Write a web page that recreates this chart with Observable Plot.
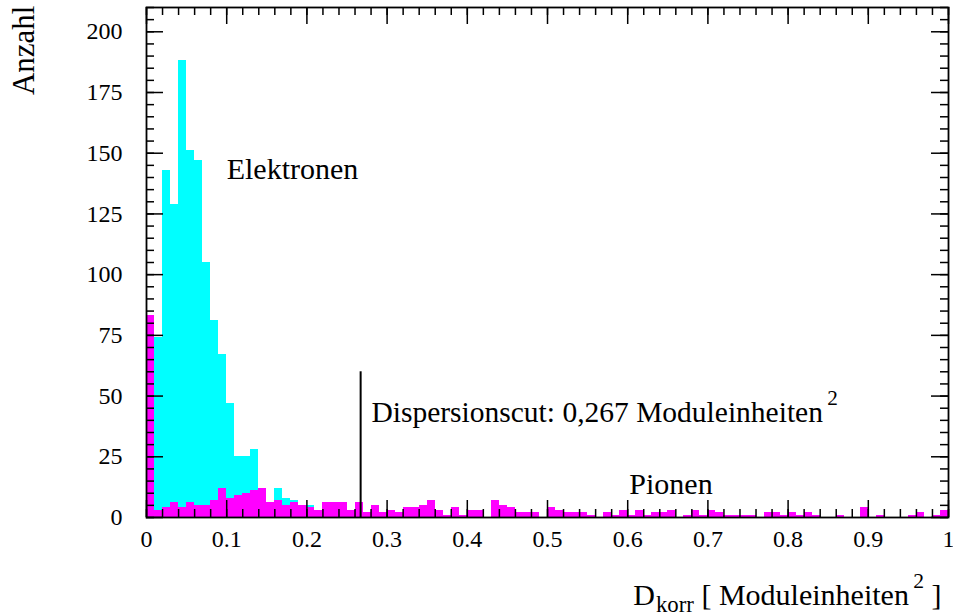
<!DOCTYPE html>
<html>
<head>
<meta charset="utf-8">
<script src="https://cdn.jsdelivr.net/npm/d3@7"></script>
<script src="https://cdn.jsdelivr.net/npm/@observablehq/plot@0.6"></script>
<style>
  body { margin: 0; background: #fff; }
  #chart svg { display: block; }
</style>
</head>
<body>
<div id="chart"></div>
<script>
// Histogram of the corrected dispersion D_korr, 100 bins from 0 to 1
const binWidth = 0.01;

// Counts per bin: electrons (cyan)
const elektronen = [
  0, 74, 143, 129, 188, 151, 147, 105, 81, 67,
  47, 25, 25, 28, 10, 5, 12, 8, 7, 5,
  5, 0, 0, 0, 0, 0, 0, 0, 0, 0,
  0, 0, 0, 0, 0, 0, 0, 0, 0, 0,
  0, 0, 0, 0, 0, 0, 0, 0, 0, 0,
  0, 0, 0, 0, 0, 0, 0, 0, 0, 0,
  0, 0, 0, 0, 0, 0, 0, 0, 0, 0,
  0, 0, 0, 0, 0, 0, 0, 0, 0, 0,
  0, 0, 0, 0, 0, 0, 0, 0, 0, 0,
  0, 0, 0, 0, 0, 0, 0, 0, 0, 0
];

// Counts per bin: pions (magenta)
const pionen = [
  83, 3, 4, 6, 4, 6, 5, 5, 7, 12,
  8, 9, 10, 11, 12, 6, 7, 5, 6, 5,
  4, 3, 6, 6, 6, 3, 6, 2, 5, 2,
  3, 2, 4, 4, 5, 7, 3, 1, 4, 1,
  3, 3, 0, 7, 5, 4, 2, 2, 2, 0,
  4, 3, 2, 2, 2, 1, 0, 2, 1, 3,
  1, 3, 1, 2, 2, 3, 0, 1, 3, 1,
  3, 2, 1, 1, 1, 1, 0, 2, 2, 1,
  2, 1, 2, 1, 0, 0, 1, 0, 0, 4,
  0, 1, 0, 0, 0, 1, 2, 0, 1, 3
];

// Axis ticks and labels
const xTickLabels = [0, 0.1, 0.2, 0.3, 0.4, 0.5, 0.6, 0.7, 0.8, 0.9, 1];
const xMinorTicks = d3.range(0, 51).map(i => i * 0.02);
const yTickLabels = [0, 25, 50, 75, 100, 125, 150, 175, 200];
const yMinorTicks = d3.range(0, 43).map(i => i * 5);

// Cut value and annotation texts (TLatex-like markup: _{sub}, ^{sup})
const cutValue = 0.267;
const cutLabel = `Dispersionscut: ${String(cutValue).replace(".", ",")} Moduleinheiten^{2}`;
const xTitle = "D_{korr} [ Moduleinheiten^{2} ]";
const yTitle = "Anzahl";

const W = 953, H = 616;
const mTop = 7, mBottom = 99, mLeft = 146, mRight = 5;
const frameW = W - mLeft - mRight, frameH = H - mTop - mBottom;
const majorLen = 17, minorLen = 8;
const font = "Liberation Serif, Times New Roman, serif";

const toBins = counts => counts.map((n, i) => ({x1: i * binWidth, x2: (i + 1) * binWidth, n}));

const svg = Plot.plot({
  width: W,
  height: H,
  marginTop: mTop,
  marginBottom: mBottom,
  marginLeft: mLeft,
  marginRight: mRight,
  style: {fontFamily: font, background: "#fff", color: "#000"},
  x: {domain: [0, 1]},
  y: {domain: [0, 210]},
  marks: [
    Plot.rectY(toBins(elektronen), {x1: "x1", x2: "x2", y: "n", fill: "#00ffff", shapeRendering: "crispEdges"}),
    Plot.rectY(toBins(pionen), {x1: "x1", x2: "x2", y: "n", fill: "#ff00ff", shapeRendering: "crispEdges"}),

    // inward ticks on all four sides
    Plot.tickX(xMinorTicks, {x: d => d, insetTop: frameH - minorLen, stroke: "#000", strokeWidth: 1.5}),
    Plot.tickX(xTickLabels, {x: d => d, insetTop: frameH - majorLen, stroke: "#000", strokeWidth: 1.5}),
    Plot.tickX(xMinorTicks, {x: d => d, insetBottom: frameH - minorLen, stroke: "#000", strokeWidth: 1.5}),
    Plot.tickX(xTickLabels, {x: d => d, insetBottom: frameH - majorLen, stroke: "#000", strokeWidth: 1.5}),
    Plot.tickY(yMinorTicks, {y: d => d, insetRight: frameW - minorLen, stroke: "#000", strokeWidth: 1.5}),
    Plot.tickY(yTickLabels, {y: d => d, insetRight: frameW - majorLen, stroke: "#000", strokeWidth: 1.5}),
    Plot.tickY(yMinorTicks, {y: d => d, insetLeft: frameW - minorLen, stroke: "#000", strokeWidth: 1.5}),
    Plot.tickY(yTickLabels, {y: d => d, insetLeft: frameW - majorLen, stroke: "#000", strokeWidth: 1.5}),

    // tick labels
    Plot.axisX(xTickLabels, {anchor: "bottom", tickSize: 0, tickPadding: 12, fontSize: 24,
      tickFormat: d => String(+d.toFixed(1)), label: null}),
    Plot.axisY(yTickLabels, {anchor: "left", tickSize: 0, tickPadding: 24, fontSize: 24,
      tickFormat: d => String(d), label: null}),

    // dispersion cut
    Plot.ruleX([cutValue], {x: d => d, y1: 0, y2: 60, stroke: "#000", strokeWidth: 2}),
    Plot.text([cutLabel], {x: 0.2805, y: 39.5, text: d => d, textAnchor: "start", lineAnchor: "bottom", fontSize: 29.5}),

    // series labels
    Plot.text(["Elektronen"], {x: 0.1, y: 139.5, text: d => d, textAnchor: "start", lineAnchor: "bottom", fontSize: 30}),
    Plot.text(["Pionen"], {x: 0.602, y: 9.5, text: d => d, textAnchor: "start", lineAnchor: "bottom", fontSize: 30}),

    // axis titles
    Plot.text([xTitle], {frameAnchor: "bottom-right", text: d => d, textAnchor: "end", lineAnchor: "bottom",
      dx: -7, dy: 87, fontSize: 30}),
    Plot.text([yTitle], {frameAnchor: "top-left", text: d => d, textAnchor: "end", lineAnchor: "bottom",
      rotate: -90, dx: -113, dy: -2, fontSize: 31}),

    Plot.frame({stroke: "#000", strokeWidth: 1.8})
  ]
});

// Render _{...} and ^{...} markup as sub- and superscripts
d3.select(svg).selectAll("text").each(function () {
  const raw = this.textContent;
  if (!/[_^]\{/.test(raw)) return;
  const el = d3.select(this);
  el.text(null);
  const re = /([_^])\{([^}]*)\}/g;
  let last = 0, m, shift = 0;
  const add = (str, kind) => {
    if (!str) return;
    const t = el.append("tspan").text(str);
    if (kind === "_") {
      const s = 0.76;
      t.attr("font-size", `${s * 100}%`).attr("dy", `${0.24 / s}em`).attr("dx", "0.05em");
      shift = 0.24;
    } else if (kind === "^") {
      const s = 0.72;
      t.attr("font-size", `${s * 100}%`).attr("dy", `${-0.55 / s}em`).attr("dx", "0.2em");
      shift = -0.55;
    } else if (shift !== 0) {
      t.attr("dy", `${-shift}em`);
      shift = 0;
    }
  };
  while ((m = re.exec(raw))) {
    add(raw.slice(last, m.index), null);
    add(m[2], m[1]);
    last = re.lastIndex;
  }
  add(raw.slice(last), null);
});

document.getElementById("chart").append(svg);
</script>
</body>
</html>
